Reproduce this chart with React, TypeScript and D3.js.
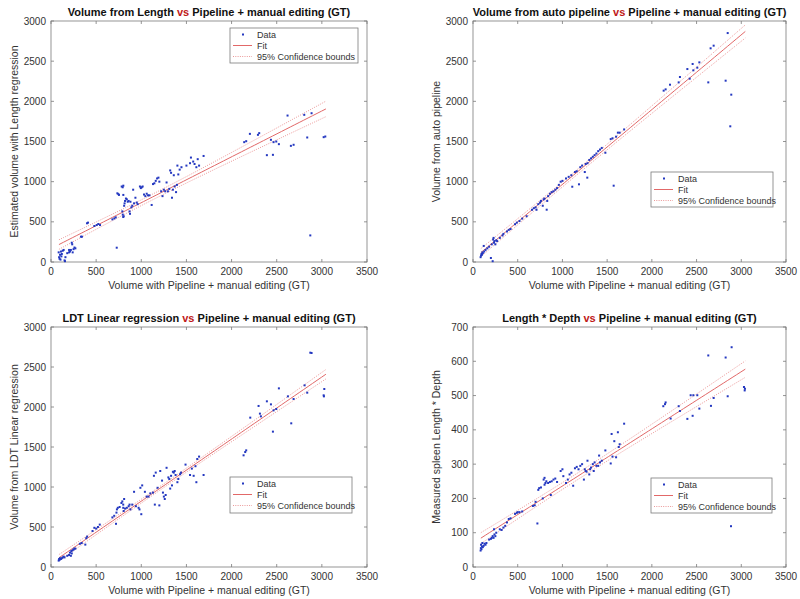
import React from "react";
import * as d3 from "d3";

// ---------------- DATA ----------------
// Panel 1: Volume from Length vs GT
const gtLength = [85,90,95,100,105,110,115,120,130,140,150,155,160,180,200,210,220,230,235,240,250,260,270,200,
  332,343,399,410,480,506,524,543,680,702,717,728,
  735,746,753,783,794,801,801,790,795,800,805,810,815,820,830,840,850,860,870,875,880,890,900,910,920,935,950,960,
  985,995,1005,1015,1030,1045,1060,1075,1090,1115,1130,1145,1160,1175,1190,1200,1220,1235,1250,1265,1280,1295,1310,
  1320,1330,1340,1350,1360,1370,1385,1395,1400,1410,1425,1445,1500,1540,1550,1575,1590,1610,1625,1640,1690,
  2140,2162,2203,2292,2306,2391,2436,2458,2465,2495,2524,2620,2657,2687,2805,2838,2872,2886,3020,3038];
const volLength = [120,60,40,90,30,130,70,100,140,150,20,10,60,110,120,130,150,240,220,120,160,180,170,150,
  315,315,482,490,448,460,473,460,531,543,556,178,
  855,845,835,940,930,950,835,630,590,560,570,700,730,760,790,780,750,760,630,600,750,680,700,900,730,800,740,720,
  940,920,930,940,840,820,850,830,830,710,970,980,1010,1040,1050,1000,880,820,900,880,990,880,910,
  1140,1110,800,900,1080,940,870,960,1200,1090,1150,1180,1200,1230,1300,1250,1220,1180,1280,1200,1320,
  1492,1504,1595,1583,1604,1330,1521,1334,1492,1500,1467,1823,1446,1459,1832,1550,331,1852,1554,1562];

// Panel 2: Volume from auto pipeline vs GT
const gtAuto = [85,90,95,100,105,110,120,125,140,160,180,200,210,220,225,230,235,240,250,260,270,300,330,340,380,400,420,470,490,520,550,600,
  660,680,700,710,730,750,760,780,790,800,824,830,840,860,880,900,920,940,960,980,1000,1040,1070,1100,1110,1140,1160,1185,1200,1220,1250,1260,1278,1280,
  1300,1320,1340,1360,1380,1400,1420,1440,1480,1540,1560,1573,1600,1620,1640,1690,
  2132,2154,2203,2300,2314,2397,2423,2456,2464,2508,2531,2631,2657,2691,2825,2848,2877,2888];
const volAuto = [60,80,100,90,120,110,200,130,150,170,190,50,220,10,280,300,240,260,220,270,260,300,330,350,380,400,410,470,490,510,540,570,
  650,670,680,650,720,740,760,700,780,790,651,760,820,850,870,880,900,920,960,1000,1010,1040,1060,1080,937,1120,1130,967,1180,1200,1120,1220,1050,1230,
  1270,1290,1310,1330,1350,1380,1400,1420,1360,1530,1540,950,1560,1610,1610,1650,
  2133,2149,2207,2236,2303,2402,2282,2465,2386,2419,2485,2236,2660,2693,2257,2850,1689,2083];

// Panel 3: LDT Linear regression vs GT
const gtLdt = [85,90,95,100,110,120,130,140,150,180,200,210,220,225,230,240,250,260,270,320,340,380,390,400,460,480,500,520,540,
  680,700,720,725,730,740,760,780,790,800,800,805,810,820,840,860,870,880,900,920,940,970,980,990,1000,1010,1040,1060,1080,1100,1130,
  1140,1150,1160,1180,1200,1210,1230,1240,1250,1260,1270,1280,1300,1310,1320,1330,1340,1350,1360,1370,1380,1400,1410,1430,1440,1490,
  1540,1560,1580,1600,1610,1620,1640,1690,
  2133,2151,2162,2207,2299,2314,2325,2391,2436,2458,2465,2495,2524,2624,2661,2687,2809,2838,2872,2886,3020,3027,3023];
const volLdt = [80,100,90,110,100,110,120,130,120,140,150,180,140,200,170,210,220,230,230,290,300,280,360,380,450,490,480,500,530,
  620,640,540,680,720,740,750,800,820,780,740,700,850,730,740,760,780,720,780,940,760,740,720,990,660,1020,940,880,880,920,930,
  1140,780,1180,990,770,1200,1080,930,880,850,900,1240,1120,1100,980,1140,1020,1190,1180,1200,1150,1060,1100,1160,1180,1280,
  1150,1230,1140,1260,1060,1350,1380,1150,
  1396,1437,1458,1867,2013,1917,1883,2071,2033,1692,1958,1975,2233,2133,1796,2100,2271,2179,2679,2675,2146,2225,2133];

// Panel 4: Length * Depth vs GT
const gtLd = [85,88,90,95,100,105,110,120,130,140,150,180,200,210,220,230,235,240,250,260,300,320,340,360,380,400,420,470,490,500,520,550,
  670,690,700,720,730,740,760,780,790,800,800,810,820,840,860,870,880,900,920,940,980,1000,1010,1040,1060,1080,1100,1120,1140,1160,1180,1200,1220,
  1240,1250,1260,1270,1280,1300,1310,1320,1340,1350,1360,1380,1400,1410,1420,1440,1480,1540,1550,1560,1580,1600,1620,1630,1640,1690,
  2128,2147,2154,2210,2300,2314,2397,2434,2456,2464,2508,2531,2631,2661,2691,2825,2848,2885,2892,3030,3038,3041];
const valLd = [48,55,65,52,60,70,58,62,68,65,70,80,82,85,90,85,110,95,90,100,110,108,115,120,130,140,142,155,158,160,160,162,
  178,180,190,127,225,230,232,200,255,260,240,245,250,245,248,210,250,255,258,248,280,285,265,245,255,270,275,237,288,292,285,295,300,
  255,285,280,278,310,270,285,290,300,280,305,295,295,325,305,310,340,302,388,322,367,320,393,350,358,418,
  469,475,480,433,469,455,432,501,441,501,501,462,617,470,493,611,498,119,641,525,515,520];

const fitIntercepts = [167, 35, 47, 69.5];
const fitSlopes = [0.571, 0.931, 0.776, 0.1667];
const fitRange = [88, 3045];

const xTicks = [0, 500, 1000, 1500, 2000, 2500, 3000, 3500];
const yTicksVol = [0, 500, 1000, 1500, 2000, 2500, 3000];
const yTicksLd = [0, 100, 200, 300, 400, 500, 600, 700];

const xLabel = "Volume with Pipeline + manual editing (GT)";

// ---------------- LAYOUT ----------------
type Panel = {
  xs: number[]; ys: number[]; titleA: string; titleB: string; yLabel: string;
  yMax: number; yTicks: number[];
  left: number; right: number; top: number; bottom: number;
  legend: { x: number; y: number; w: number; h: number };
};

const panels: Panel[] = [
  { xs: gtLength, ys: volLength, titleA: "Volume from Length ", titleB: " Pipeline + manual editing (GT)",
    yLabel: "Estimated volume with Length regression", yMax: 3000, yTicks: yTicksVol,
    left: 51, right: 367, top: 21, bottom: 262, legend: { x: 230, y: 28, w: 128, h: 35 } },
  { xs: gtAuto, ys: volAuto, titleA: "Volume from auto pipeline ", titleB: " Pipeline + manual editing (GT)",
    yLabel: "Volume from auto pipeline", yMax: 3000, yTicks: yTicksVol,
    left: 473, right: 786, top: 21, bottom: 262, legend: { x: 651, y: 172, w: 122, h: 35 } },
  { xs: gtLdt, ys: volLdt, titleA: "LDT Linear regression ", titleB: " Pipeline + manual editing (GT)",
    yLabel: "Volume from LDT Linear regression", yMax: 3000, yTicks: yTicksVol,
    left: 51, right: 367, top: 327, bottom: 567, legend: { x: 230, y: 477, w: 122, h: 36 } },
  { xs: gtLd, ys: valLd, titleA: "Length * Depth ", titleB: " Pipeline + manual editing (GT)",
    yLabel: "Measured spleen Length * Depth", yMax: 700, yTicks: yTicksLd,
    left: 473, right: 786, top: 327, bottom: 567, legend: { x: 651, y: 478, w: 121, h: 35 } },
];

const FONT = "'Liberation Sans', Arial, Helvetica, sans-serif";
const AXIS = "#7a7a7a";
const TEXT = "#333";
const DOT = "#2438c0";
const FIT = "#e26868";

// 95% confidence half-width of the fitted line, from the residual spread of the data
function ciHalf(xs: number[], ys: number[], a: number, b: number) {
  const n = xs.length;
  const mx = d3.mean(xs)!;
  let sxx = 0, sse = 0;
  for (let i = 0; i < n; i++) {
    sxx += (xs[i] - mx) ** 2;
    sse += (ys[i] - a - b * xs[i]) ** 2;
  }
  const s = Math.sqrt(sse / (n - 2));
  const t = 1.98;
  return (x: number) => t * s * Math.sqrt(1 / n + (x - mx) ** 2 / sxx);
}

function PanelView({ p, idx }: { p: Panel; idx: number }) {
  const x = d3.scaleLinear().domain([0, 3500]).range([p.left, p.right]);
  const y = d3.scaleLinear().domain([0, p.yMax]).range([p.bottom, p.top]);
  const a = fitIntercepts[idx];
  const b = fitSlopes[idx];
  const half = ciHalf(p.xs, p.ys, a, b);
  const [x0, x1] = fitRange;
  const samples = d3.range(0, 61).map((i) => x0 + ((x1 - x0) * i) / 60);
  const mk = (off: number) =>
    d3.line<number>().x((v) => x(v)).y((v) => y(a + b * v + off * half(v)))(samples)!;
  const cx = (p.left + p.right) / 2;
  const cy = (p.top + p.bottom) / 2;
  const tl = 3;
  const L = p.legend;
  const rowY = [L.y + 6.5, L.y + 17.5, L.y + 28.5];
  return (
    <g>
      <rect x={p.left} y={p.top} width={p.right - p.left} height={p.bottom - p.top} fill="#fff" />
      {xTicks.map((t) => (
        <g key={"xt" + t}>
          <line x1={x(t)} x2={x(t)} y1={p.bottom} y2={p.bottom - tl} stroke={AXIS} strokeWidth={0.8} />
          <line x1={x(t)} x2={x(t)} y1={p.top} y2={p.top + tl} stroke={AXIS} strokeWidth={0.8} />
          <text x={x(t)} y={p.bottom + 13} textAnchor="middle" fontSize={10} fill={TEXT} fontFamily={FONT}>{t}</text>
        </g>
      ))}
      {p.yTicks.map((t) => (
        <g key={"yt" + t}>
          <line x1={p.left} x2={p.left + tl} y1={y(t)} y2={y(t)} stroke={AXIS} strokeWidth={0.8} />
          <line x1={p.right} x2={p.right - tl} y1={y(t)} y2={y(t)} stroke={AXIS} strokeWidth={0.8} />
          <text x={p.left - 5} y={y(t) + 3.5} textAnchor="end" fontSize={10} fill={TEXT} fontFamily={FONT}>{t}</text>
        </g>
      ))}
      <rect x={p.left} y={p.top} width={p.right - p.left} height={p.bottom - p.top} fill="none" stroke={AXIS} strokeWidth={0.8} />
      <path d={mk(1)} fill="none" stroke={FIT} strokeWidth={0.9} strokeDasharray="1,1.3" opacity={0.75} />
      <path d={mk(-1)} fill="none" stroke={FIT} strokeWidth={0.9} strokeDasharray="1,1.3" opacity={0.75} />
      <path d={mk(0)} fill="none" stroke={FIT} strokeWidth={1} />
      {p.xs.map((v, i) => (
        <rect key={i} x={x(v) - 1} y={y(p.ys[i]) - 1} width={2} height={2} fill={DOT} />
      ))}
      <text x={cx} y={p.top - 5} textAnchor="middle" fontSize={11} fontWeight="bold" fill="#111" fontFamily={FONT}>
        {p.titleA}<tspan fill="#c01818">vs</tspan>{p.titleB}
      </text>
      <text x={cx} y={p.bottom + 27} textAnchor="middle" fontSize={10.5} fill={TEXT} fontFamily={FONT}>{xLabel}</text>
      <text transform={`translate(${p.left - 33},${cy}) rotate(-90)`} textAnchor="middle" fontSize={10.5} fill={TEXT} fontFamily={FONT}>{p.yLabel}</text>
      <rect x={L.x} y={L.y} width={L.w} height={L.h} fill="#fff" stroke={AXIS} strokeWidth={0.8} />
      <rect x={L.x + 12} y={rowY[0] - 1} width={2} height={2} fill={DOT} />
      <line x1={L.x + 3} x2={L.x + 22} y1={rowY[1]} y2={rowY[1]} stroke={FIT} strokeWidth={1} />
      <line x1={L.x + 3} x2={L.x + 22} y1={rowY[2]} y2={rowY[2]} stroke={FIT} strokeWidth={0.9} strokeDasharray="1,1.3" opacity={0.75} />
      <text x={L.x + 27} y={rowY[0] + 3.5} fontSize={9} fill={TEXT} fontFamily={FONT}>Data</text>
      <text x={L.x + 27} y={rowY[1] + 3.5} fontSize={9} fill={TEXT} fontFamily={FONT}>Fit</text>
      <text x={L.x + 27} y={rowY[2] + 3.5} fontSize={9} fill={TEXT} fontFamily={FONT}>95% Confidence bounds</text>
    </g>
  );
}

export default function App() {
  return (
    <svg width={800} height={599} style={{ position: "absolute", left: 0, top: 0, background: "#fff" }}>
      <rect width={800} height={599} fill="#fff" />
      {panels.map((p, i) => <PanelView key={i} p={p} idx={i} />)}
    </svg>
  );
}
